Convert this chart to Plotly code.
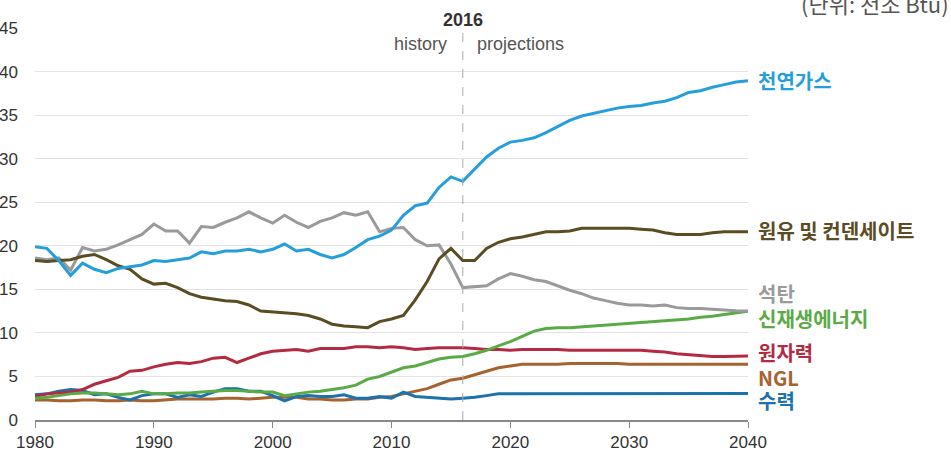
import plotly.graph_objects as go

years = list(range(1980, 2041))

natural_gas = [19.9, 19.7, 18.3, 16.6, 18.0, 17.3, 16.9, 17.4, 17.6, 17.8,
               18.3, 18.2, 18.4, 18.6, 19.3, 19.1, 19.4, 19.4, 19.6, 19.3,
               19.6, 20.2, 19.4, 19.6, 19.0, 18.6, 19.0, 19.8, 20.7, 21.1,
               21.8, 23.5, 24.6, 24.9, 26.7, 27.9, 27.4, 28.8, 30.2, 31.2,
               31.9, 32.1, 32.4, 33.0, 33.7, 34.4, 34.9, 35.2, 35.5, 35.8,
               36.0, 36.1, 36.4, 36.6, 37.0, 37.6, 37.8, 38.2, 38.5, 38.8,
               38.95]

crude_oil = [18.3, 18.2, 18.3, 18.4, 18.8, 19.0, 18.4, 17.7, 17.3, 16.2,
             15.6, 15.7, 15.2, 14.5, 14.1, 13.9, 13.7, 13.6, 13.2, 12.5,
             12.4, 12.3, 12.2, 12.0, 11.6, 11.0, 10.8, 10.7, 10.6, 11.3,
             11.6, 12.0, 13.8, 15.9, 18.5, 19.7, 18.3, 18.3, 19.7, 20.4,
             20.8, 21.0, 21.3, 21.6, 21.6, 21.7, 22.0, 22.0, 22.0, 22.0,
             22.0, 21.9, 21.8, 21.5, 21.3, 21.3, 21.3, 21.5, 21.6, 21.6,
             21.6]

coal = [18.6, 18.4, 18.6, 17.2, 19.8, 19.4, 19.6, 20.1, 20.7, 21.3,
        22.5, 21.7, 21.7, 20.3, 22.2, 22.1, 22.7, 23.2, 23.9, 23.2,
        22.6, 23.5, 22.7, 22.1, 22.8, 23.2, 23.8, 23.5, 23.9, 21.6,
        22.0, 22.1, 20.7, 20.0, 20.1, 17.9, 15.2, 15.3, 15.4, 16.2,
        16.8, 16.5, 16.1, 15.9, 15.4, 14.9, 14.5, 14.0, 13.7, 13.4,
        13.2, 13.2, 13.1, 13.2, 12.9, 12.8, 12.8, 12.7, 12.6, 12.55,
        12.5]

renewables = [2.5, 2.6, 2.8, 3.0, 3.1, 3.1, 3.0, 2.9, 3.0, 3.3,
              3.0, 3.0, 3.1, 3.1, 3.2, 3.3, 3.4, 3.4, 3.3, 3.2,
              3.2, 2.8, 3.0, 3.2, 3.3, 3.5, 3.7, 4.0, 4.7, 5.0,
              5.5, 6.0, 6.2, 6.6, 7.0, 7.2, 7.3, 7.6, 8.0, 8.5,
              9.0, 9.6, 10.2, 10.5, 10.6, 10.6, 10.7, 10.8, 10.9, 11.0,
              11.1, 11.2, 11.3, 11.4, 11.5, 11.6, 11.8, 11.9, 12.1, 12.3,
              12.5]

nuclear = [2.7, 3.0, 3.1, 3.2, 3.5, 4.1, 4.5, 4.9, 5.6, 5.7,
           6.1, 6.4, 6.6, 6.5, 6.7, 7.1, 7.2, 6.6, 7.1, 7.6,
           7.9, 8.0, 8.1, 7.9, 8.2, 8.2, 8.2, 8.4, 8.4, 8.3,
           8.4, 8.3, 8.1, 8.2, 8.3, 8.3, 8.3, 8.2, 8.1, 8.1,
           8.0, 8.1, 8.1, 8.1, 8.1, 8.0, 8.0, 8.0, 8.0, 8.0,
           8.0, 8.0, 7.9, 7.8, 7.6, 7.5, 7.4, 7.3, 7.3, 7.3,
           7.35]

ngl = [2.3, 2.3, 2.2, 2.2, 2.3, 2.3, 2.2, 2.2, 2.3, 2.2,
       2.2, 2.3, 2.4, 2.4, 2.4, 2.4, 2.5, 2.5, 2.4, 2.5,
       2.6, 2.6, 2.6, 2.4, 2.4, 2.3, 2.3, 2.4, 2.4, 2.6,
       2.7, 3.0, 3.3, 3.6, 4.1, 4.6, 4.8, 5.2, 5.6, 6.0,
       6.2, 6.4, 6.4, 6.4, 6.4, 6.5, 6.5, 6.5, 6.5, 6.5,
       6.4, 6.4, 6.4, 6.4, 6.4, 6.4, 6.4, 6.4, 6.4, 6.4,
       6.4]

hydro = [2.9, 3.0, 3.3, 3.5, 3.4, 2.9, 3.0, 2.6, 2.3, 2.8,
         3.0, 3.0, 2.6, 2.9, 2.7, 3.2, 3.6, 3.6, 3.3, 3.3,
         2.8, 2.2, 2.7, 2.8, 2.7, 2.7, 2.9, 2.5, 2.5, 2.7,
         2.5, 3.2, 2.7, 2.6, 2.5, 2.4, 2.5, 2.6, 2.8, 3.0,
         3.0, 3.0, 3.0, 3.0, 3.0, 3.0, 3.0, 3.0, 3.0, 3.05,
         3.05, 3.05, 3.05, 3.05, 3.05, 3.05, 3.05, 3.05, 3.05, 3.05,
         3.05]

series_names = ["천연가스", "원유 및 컨덴세이트", "석탄", "신재생에너지", "원자력", "NGL", "수력"]
series_values = [natural_gas, crude_oil, coal, renewables, nuclear, ngl, hydro]
series_colors = ["#249fdb", "#5b4c24", "#9a9a9a", "#5aaa46", "#b52a43", "#a6632f", "#1b72ad"]
label_y = [39.0, 21.8, 14.5, 11.6, 7.7, 4.9, 2.2]

x_ticks = [1980, 1990, 2000, 2010, 2020, 2030, 2040]
y_ticks = [0, 5, 10, 15, 20, 25, 30, 35, 40, 45]
divider_year = 2016

fig = go.Figure()
order = [5, 6, 4, 3, 2, 1, 0]
for i in order:
    fig.add_trace(go.Scatter(x=years, y=series_values[i], mode="lines",
                             line=dict(color=series_colors[i], width=3),
                             name=series_names[i], showlegend=False))

for name, color, ly in zip(series_names, series_colors, label_y):
    fig.add_annotation(x=1.0, xref="paper", y=ly, yref="y", xshift=8,
                       xanchor="left", yanchor="middle", showarrow=False,
                       text="<b>" + name + "</b>",
                       font=dict(family="Noto Sans CJK KR", size=20, color=color))

fig.add_shape(type="line", x0=divider_year, x1=divider_year, xref="x",
              y0=0, y1=1, yref="paper",
              line=dict(color="#aaaaaa", width=1, dash="dash"))

fig.add_annotation(x=divider_year, xref="x", y=1, yref="paper", yshift=8,
                   text="<b>2016</b>", showarrow=False, xanchor="center", yanchor="middle",
                   font=dict(family="Liberation Sans", size=18, color="#333333"))
fig.add_annotation(x=divider_year, xref="x", y=1, yref="paper", yshift=-16, xshift=-14,
                   text="history", showarrow=False, xanchor="right", yanchor="middle",
                   font=dict(family="Liberation Sans", size=18, color="#555555"))
fig.add_annotation(x=divider_year, xref="x", y=1, yref="paper", yshift=-16, xshift=12,
                   text="projections", showarrow=False, xanchor="left", yanchor="middle",
                   font=dict(family="Liberation Sans", size=18, color="#555555"))
fig.add_annotation(x=1.0, xref="paper", y=1, yref="paper", xshift=203, yshift=25,
                   text="(단위: 천조 Btu)", showarrow=False, xanchor="right", yanchor="middle",
                   font=dict(family="Noto Sans CJK KR", size=22, color="#555555"))

fig.update_layout(
    width=951, height=460,
    margin=dict(l=35, r=203, t=28, b=40, autoexpand=False),
    plot_bgcolor="white", paper_bgcolor="white",
    font=dict(family="Liberation Sans, Noto Sans CJK KR", size=18, color="#333333"),
    xaxis=dict(range=[1980, 2040], tickvals=x_ticks, ticktext=[str(t) for t in x_ticks],
               showgrid=False, showline=True, linecolor="#888888", linewidth=1.5,
               ticks="outside", ticklen=6, tickcolor="#888888", zeroline=False,
               automargin=False, tickfont=dict(size=17, color="#333333")),
    yaxis=dict(range=[0, 45], tickvals=y_ticks, showgrid=True, gridcolor="#e3e3e3",
               gridwidth=1, zeroline=False, showline=False, ticks="",
               automargin=False, ticklabelstandoff=16,
               tickfont=dict(size=17, color="#333333")),
)

fig.write_html("out.html")
